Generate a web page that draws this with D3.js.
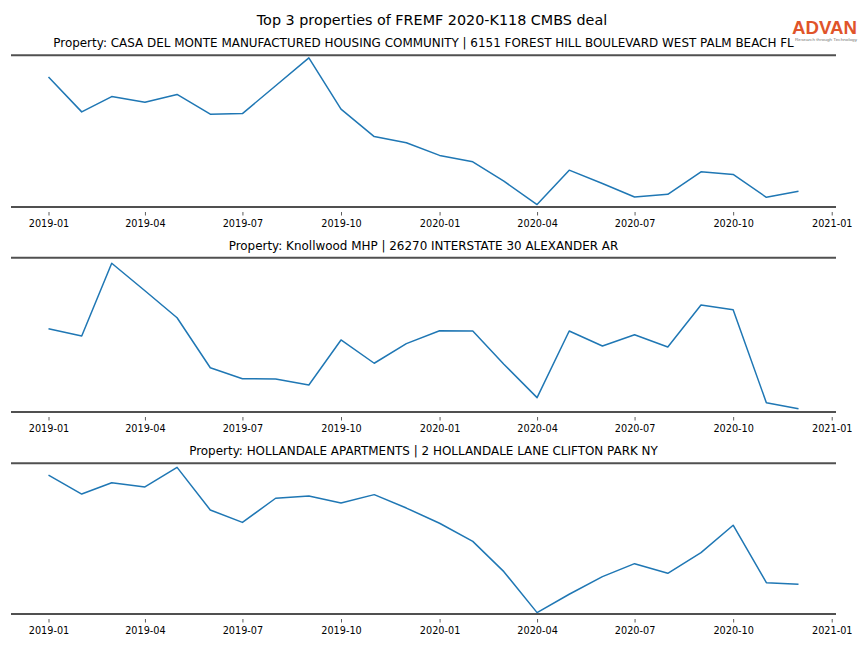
<!DOCTYPE html>
<html><head><meta charset="utf-8">
<script src="https://cdn.jsdelivr.net/npm/d3@7"></script>
<style>body{margin:0;background:#fff} svg{display:block}</style>
</head><body><svg id="chart" width="864" height="648"></svg>
<script>
// ---- data ----
const months = ["2019-01","2019-02","2019-03","2019-04","2019-05","2019-06","2019-07","2019-08","2019-09","2019-10","2019-11","2019-12",
                "2020-01","2020-02","2020-03","2020-04","2020-05","2020-06","2020-07","2020-08","2020-09","2020-10","2020-11","2020-12"];
const casaDelMonteValues = [85.7,62.7,72.8,69.1,74.2,61.2,61.6,79.9,98.3,64.5,46.4,42.4,
                            34.0,29.8,17.0,1.6,24.3,15.5,6.6,8.4,23.2,21.5,6.4,10.4];
const knollwoodValues = [54.0,49.3,96.4,78.6,61.1,28.7,21.6,21.4,17.5,46.7,31.6,44.3,
                         52.7,52.5,31.0,9.3,52.5,42.8,50.1,42.1,69.3,66.3,6.0,2.1];
const hollandaleValues = [92.2,79.6,87.1,84.3,97.3,69.0,60.8,76.8,78.3,73.7,79.2,70.3,
                          60.2,48.2,28.1,0.9,13.1,24.8,33.4,27.0,40.7,58.9,20.8,19.7];
const propertyTitles = [
  "Property: CASA DEL MONTE MANUFACTURED HOUSING COMMUNITY | 6151 FOREST HILL BOULEVARD WEST PALM BEACH FL",
  "Property: Knollwood MHP | 26270 INTERSTATE 30 ALEXANDER AR",
  "Property: HOLLANDALE APARTMENTS | 2 HOLLANDALE LANE CLIFTON PARK NY"
];
const tickLabels = ["2019-01","2019-04","2019-07","2019-10","2020-01","2020-04","2020-07","2020-10","2021-01"];
const xLimits = ["2018-11-27","2021-01-05"];
const yLimits = [0, 100];
const chartTitle = "Top 3 properties of FREMF 2020-K118 CMBS deal";

// ---- drawing ----
const svg = d3.select("#chart");
const W = 864;
const left = 11, right = 836;
const frames = [{top:55.3,bottom:207},{top:257.7,bottom:412},{top:463.3,bottom:614}];
const seriesList = [casaDelMonteValues, knollwoodValues, hollandaleValues];
const parseMonth = d3.utcParse("%Y-%m");
const parseDay = d3.utcParse("%Y-%m-%d");
const font = "DejaVu Sans, sans-serif";

const x = d3.scaleUtc().domain(xLimits.map(parseDay)).range([left, right]);

svg.append("text").attr("x", W/2).attr("y", 25).attr("text-anchor","middle")
  .attr("font-family", font).attr("font-size", 14.35).attr("fill","#000").text(chartTitle);

// logo
const logo = svg.append("g");
logo.append("text").attr("x", 792).attr("y", 33.5).attr("textLength", 65).attr("lengthAdjust","spacingAndGlyphs")
  .attr("font-family","Liberation Sans, Arial, sans-serif").attr("font-weight","bold").attr("font-size", 18.5)
  .attr("fill","#e0542a").text("ADVAN");
logo.append("text").attr("x", 795).attr("y", 40.5).attr("textLength", 62).attr("lengthAdjust","spacingAndGlyphs")
  .attr("font-family","Liberation Sans, Arial, sans-serif").attr("font-size", 4)
  .attr("fill","#777").text("Research through Technology");

frames.forEach((f, i) => {
  const y = d3.scaleLinear().domain(yLimits).range([f.bottom, f.top]);
  const g = svg.append("g");
  g.append("text").attr("x", (left+right)/2).attr("y", f.top - 8).attr("text-anchor","middle")
    .attr("font-family", font).attr("font-size", 11.95).attr("fill","#000").text(propertyTitles[i]);

  const data = months.map((m, k) => ({d: parseMonth(m), v: seriesList[i][k]}));
  g.append("path").datum(data)
    .attr("fill","none").attr("stroke","#1f77b4").attr("stroke-width",1.5).attr("stroke-linejoin","round")
    .attr("d", d3.line().x(d => x(d.d)).y(d => y(d.v)));

  [f.top, f.bottom].forEach(yy => {
    g.append("line").attr("x1", left).attr("x2", right).attr("y1", yy).attr("y2", yy)
      .attr("stroke","#505050").attr("stroke-width", 2);
  });

  const axis = d3.axisBottom(x).tickValues(tickLabels.map(parseMonth))
    .tickFormat(d3.utcFormat("%Y-%m")).tickSize(3.5).tickPadding(4.6);
  const ag = g.append("g").attr("transform", `translate(0,${f.bottom + 5})`).call(axis);
  ag.select(".domain").remove();
  ag.selectAll(".tick line").attr("stroke","#333").attr("stroke-width",0.8);
  ag.selectAll(".tick text").attr("font-family", font).attr("font-size", 9.7).attr("fill","#000");
});
</script></body></html>
